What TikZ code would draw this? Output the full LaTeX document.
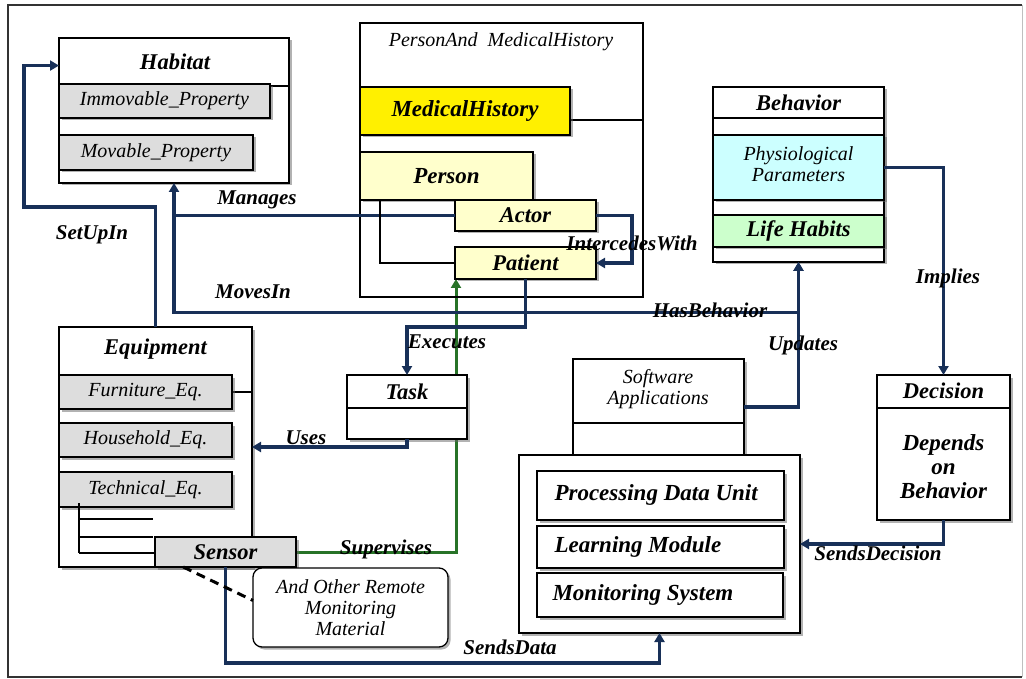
\documentclass[tikz,border=0pt]{standalone}
\usepackage{fontspec}
\setmainfont{Liberation Serif}
\usetikzlibrary{calc,shadows,arrows.meta}
\pgfdeclarelayer{bg}
\pgfsetlayers{bg,main}
\definecolor{navy}{RGB}{24,48,88}
\definecolor{dgreen}{RGB}{40,115,40}
\definecolor{ygold}{RGB}{255,240,0}
\definecolor{lyel}{RGB}{255,255,204}
\definecolor{lcyan}{RGB}{204,255,255}
\definecolor{lgreen}{RGB}{204,255,204}
\definecolor{lgray}{RGB}{221,221,221}
\newcommand{\fTitle}{\fontsize{22.5}{24}\selectfont\bfseries\itshape}
\newcommand{\fBig}{\fontsize{23}{24}\selectfont\bfseries\itshape}
\newcommand{\fReg}{\fontsize{20}{21}\selectfont\itshape}
\newcommand{\fLab}{\fontsize{21}{22}\selectfont\bfseries\itshape}
\newcommand{\bx}[7]{\node[#2, anchor=north west, minimum width={(#5-#3)*1pt}, minimum height={(#6-#4)*1pt}] (#1) at (#3,#4) {#7};}
\begin{document}
\begin{tikzpicture}[x=1pt,y=-1pt,
  frame/.style={draw=black, line width=1.3pt, inner sep=0pt, outer sep=0pt},
  box/.style={frame, fill=white, drop shadow={shadow xshift=2.5pt, shadow yshift=-2.5pt, fill=black!60}},
  gbox/.style={box, fill=lgray},
  ybox/.style={box, fill=ygold},
  lybox/.style={box, fill=lyel},
  cbox/.style={box, fill=lcyan},
  gnbox/.style={box, fill=lgreen},
  rbox/.style={box, rounded corners=9pt, align=center, font=\fReg},
  sep/.style={draw=black, line width=1.3pt},
  lab/.style={font=\fLab, inner sep=0pt},
  conn/.style={draw=navy, line width=3.2pt},
  gconn/.style={draw=dgreen, line width=3pt},
  arr/.style={-{Triangle[length=9pt,width=10pt]}},
]
\useasboundingbox (0,0) rectangle (1026,679);
\draw[line width=1.3pt, black!80] (1022,5) -- (8,5) -- (8,677) -- (1022,677);
\draw[line width=0.8pt, black!25] (1022,5) -- (1022,677);

% Habitat
\bx{hab}{box}{59}{38}{289}{183}{}
\node[font=\fTitle] (habT) at (175,62) {Habitat};
\draw[sep] (270,86) -- (289,86);
\bx{immov}{gbox}{59}{84}{270}{118}{\fReg Immovable\_Property}
\bx{mov}{gbox}{59}{135}{253}{170}{\fReg Movable\_Property}

% Person and medical history
\bx{pmh}{frame}{360}{23}{643}{297}{}
\node[font=\fReg] (pmhT) at (501,42) {PersonAnd\hspace{0.5em}MedicalHistory};
\draw[sep] (570,120) -- (643,120);
\bx{medh}{ybox}{360}{87}{570}{135}{\fBig MedicalHistory}
\bx{person}{lybox}{360}{152}{533}{200}{\fBig Person}
\bx{actor}{lybox}{455}{200}{596}{231}{\fTitle Actor}
\bx{patient}{lybox}{455}{247}{596}{279}{\fTitle Patient}

% Behavior
\bx{beh}{box}{713}{87}{884}{262}{}
\node[font=\fTitle] (behT) at (798.5,103) {Behavior};
\draw[sep] (713,118) -- (884,118);
\bx{phys}{cbox}{713}{135}{884}{200}{}
\node[font=\fReg, align=center] (physT) at (798.5,164) {Physiological\\Parameters};
\bx{life}{gnbox}{713}{215}{884}{247}{\fTitle Life Habits}

% Decision
\bx{dec}{box}{877}{375}{1010}{520}{}
\node[font=\fTitle] (decT) at (943.5,391) {Decision};
\draw[sep] (877,408) -- (1010,408);
\node[font={\fontsize{23}{24}\selectfont\bfseries\itshape}, align=center] (decB) at (943.5,467) {Depends\\on\\Behavior};

% Software
\bx{swa}{box}{573}{359}{744}{455}{}
\node[font=\fReg, align=center] (swaT) at (658,389) {Software\\Applications};
\draw[sep] (573,423) -- (744,423);
\bx{swo}{box}{519}{455}{800}{633}{}
\bx{pdu}{box}{537}{471}{784}{520}{}
\node[font=\fBig, anchor=west] (pduT) at (551,495) {Processing Data Unit};
\bx{lm}{box}{537}{526}{784}{568}{}
\node[font=\fBig, anchor=west] (lmT) at (551,547) {Learning Module};
\bx{ms}{box}{537}{573}{783}{617}{}
\node[font=\fBig, anchor=west] (msT) at (549,595) {Monitoring System};

% Task
\bx{task}{box}{347}{375}{467}{439}{}
\node[font=\fTitle] (taskT) at (407,392) {Task};
\draw[sep] (347,408) -- (467,408);

% Equipment
\bx{equip}{box}{59}{327}{252}{567}{}
\node[font=\fTitle] (equipT) at (155.5,349) {Equipment};
\draw[sep] (232,392) -- (252,392);
\bx{furn}{gbox}{59}{375}{232}{409}{\fReg Furniture\_Eq.}
\bx{house}{gbox}{59}{423}{232}{457}{\fReg Household\_Eq.}
\bx{tech}{gbox}{59}{472}{232}{507}{\fReg Technical\_Eq.}
\draw[sep] (79,503) -- (79,553);
\draw[sep] (79,519) -- (153,519);
\draw[sep] (79,537) -- (153,537);
\draw[sep] (79,553) -- (155,553);
\bx{sensor}{gbox}{155}{537}{296}{567}{\fTitle Sensor}

% Remote material
\bx{remote}{rbox}{253}{568}{448}{647}{And Other Remote\\Monitoring\\Material}

% Connectors
\begin{pgfonlayer}{bg}
\draw[gconn,arr] (sensor.east) -| ($(patient.south west)+(1,0)$);
\end{pgfonlayer}
\coordinate (hIn) at ($(hab.north west)!0.19!(hab.south west)$);
\draw[conn,arr] (equip.north) -- ++(0,-120) -| ($(hIn)+(-35,0)$) -- (hIn);
\draw[conn,arr] (actor.west) -| (hab.south);
\coordinate (mv) at ($(hab.south |- actor.west)+(0,97)$);
\draw[conn,arr] (hab.south |- actor.west) -- (mv) -| (beh.south);
\draw[conn,arr] (swa.east) -| (beh.south);
\draw[conn,arr] (phys.east) -| (dec.north);
\draw[conn,arr] (dec.south) |- (swo.east);
\draw[conn,arr] (patient.south) -- ++(0,48) -| (task.north);
\draw[conn,arr] (task.south) |- (equip.east);
\draw[conn,arr] (actor.east) -- ++(36,0) |- (patient.east);
\draw[conn,arr] (sensor.south) -- ++(0,96) -| (swo.south);
\draw[sep] ($(person.south west)+(20,0)$) |- (patient.west);
\draw[line width=3pt, dash pattern=on 9pt off 6pt] ($(sensor.south west)!0.2!(sensor.south east)$) -- ($(remote.west)+(0,-7)$);

% Labels
\node[lab] (lManages) at (257,200) {Manages};
\node[lab] (lSetUp) at (92,235) {SetUpIn};
\node[lab] (lMoves) at (253,292) {MovesIn};
\node[lab] (lHas) at (710,310) {HasBehavior};
\node[lab] (lUpd) at (803,345) {Updates};
\node[lab] (lImp) at (948,278) {Implies};
\node[lab] (lExe) at (447,342) {Executes};
\node[lab] (lUses) at (306,438) {Uses};
\node[lab] (lSup) at (386,549) {Supervises};
\node[lab] (lData) at (510,647) {SendsData};
\node[lab] (lDec) at (878,553) {SendsDecision};
\node[lab] (lInt) at (632,243) {IntercedesWith};
\end{tikzpicture}
\end{document}
